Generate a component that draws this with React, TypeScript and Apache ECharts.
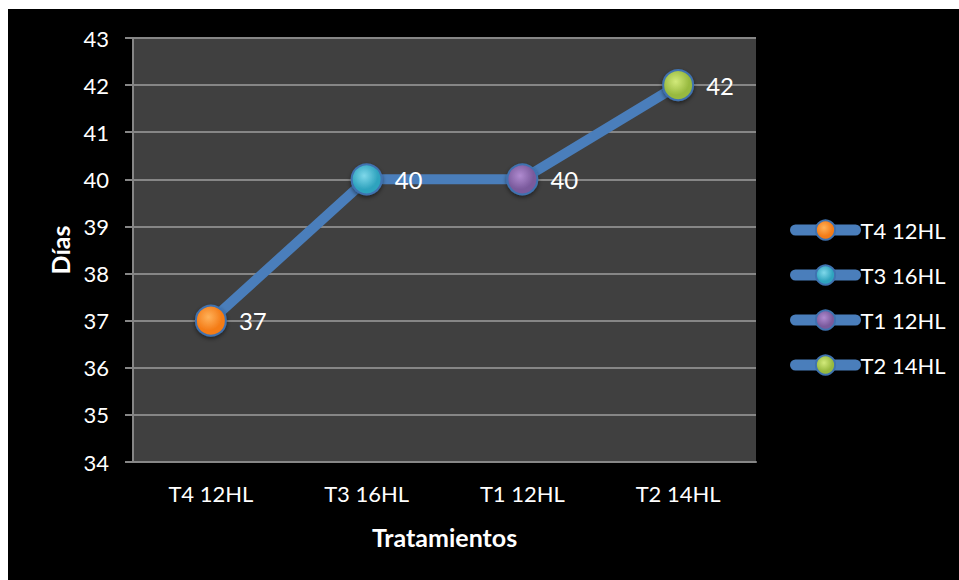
import React, { useEffect, useRef } from "react";
import * as echarts from "echarts";

const categories = ["T4 12HL", "T3 16HL", "T1 12HL", "T2 14HL"];
const values = [37, 40, 40, 42];
const pointColors = ["#F47B16", "#2FA3BE", "#7A5A9C", "#97B93F"];
const pointHighlights = ["#FFB25A", "#7FD8EA", "#B08BD0", "#D2EA7A"];
const yMin = 34;
const yMax = 43;
const yStep = 1;
const xTitle = "Tratamientos";
const yTitle = "Días";

const FONT = "Lato";
const LINE_BLUE = "#4A7EBB";

export default function App() {
  const ref = useRef<HTMLDivElement>(null);
  useEffect(() => {
    if (!ref.current) return;
    const chart = echarts.init(ref.current, null, { renderer: "svg" });
    const ball = (i: number) => ({
      type: "radial",
      x: 0.42,
      y: 0.38,
      r: 0.65,
      colorStops: [
        { offset: 0, color: pointHighlights[i] },
        { offset: 0.7, color: pointColors[i] },
        { offset: 1, color: pointColors[i] },
      ],
    });
    const pointSeries = categories.map((name, i) => ({
      type: "line",
      name,
      data: values.map((v, j) => (j === i ? v : null)),
      symbol: "circle",
      symbolSize: 30,
      showAllSymbol: true,
      z: 5,
      lineStyle: { color: LINE_BLUE, width: 10 },
      itemStyle: {
        color: ball(i),
        borderColor: "#3F72B0",
        borderWidth: 2,
        shadowColor: "rgba(0,0,0,0.5)",
        shadowBlur: 4,
        shadowOffsetY: 2,
      },
      label: {
        show: true,
        position: "right",
        distance: 12,
        color: "#FFFFFF",
        fontFamily: FONT,
        fontSize: 24,
      },
    }));
    chart.setOption({
      animation: false,
      backgroundColor: "#000000",
      textStyle: { fontFamily: FONT },
      grid: { left: 125, right: 203, top: 29, bottom: 118 },
      legend: {
        orient: "vertical",
        left: 777,
        top: 205,
        data: categories,
        itemWidth: 60,
        itemHeight: 24,
        itemGap: 23,
        textStyle: { color: "#FFFFFF", fontFamily: FONT, fontSize: 22 },
        lineStyle: { width: 11, color: LINE_BLUE, cap: "round" },
      },
      xAxis: {
        type: "category",
        data: categories,
        boundaryGap: true,
        axisLine: { show: true, lineStyle: { color: "#868686", width: 2 } },
        axisTick: { show: false },
        axisLabel: { color: "#FFFFFF", fontFamily: FONT, fontSize: 22, margin: 20 },
        splitLine: { show: false },
        name: xTitle,
        nameLocation: "middle",
        nameGap: 62,
        nameTextStyle: { color: "#FFFFFF", fontFamily: FONT, fontSize: 25, fontWeight: "bold" },
      },
      yAxis: {
        type: "value",
        min: yMin,
        max: yMax,
        interval: yStep,
        axisLine: { show: true, lineStyle: { color: "#868686", width: 2 } },
        axisTick: { show: true, inside: false, length: 8, lineStyle: { color: "#868686", width: 2 } },
        axisLabel: { color: "#FFFFFF", fontFamily: FONT, fontSize: 22, margin: 24 },
        splitLine: { show: true, lineStyle: { color: "#868686", width: 2 } },
        splitArea: { show: true, areaStyle: { color: ["#404040", "#404040"] } },
        name: yTitle,
        nameLocation: "middle",
        nameGap: 60,
        nameRotate: 90,
        nameTextStyle: { color: "#FFFFFF", fontFamily: FONT, fontSize: 25, fontWeight: "bold" },
      },
      series: [
        {
          type: "line",
          name: "__line",
          data: values,
          symbol: "none",
          z: 3,
          lineStyle: { color: LINE_BLUE, width: 10 },
          label: { show: false },
        },
        ...pointSeries,
      ],
    });
    return () => chart.dispose();
  }, []);
  return (
    <div
      ref={ref}
      style={{ position: "absolute", left: 8, top: 9, width: 951, height: 571 }}
    />
  );
}
